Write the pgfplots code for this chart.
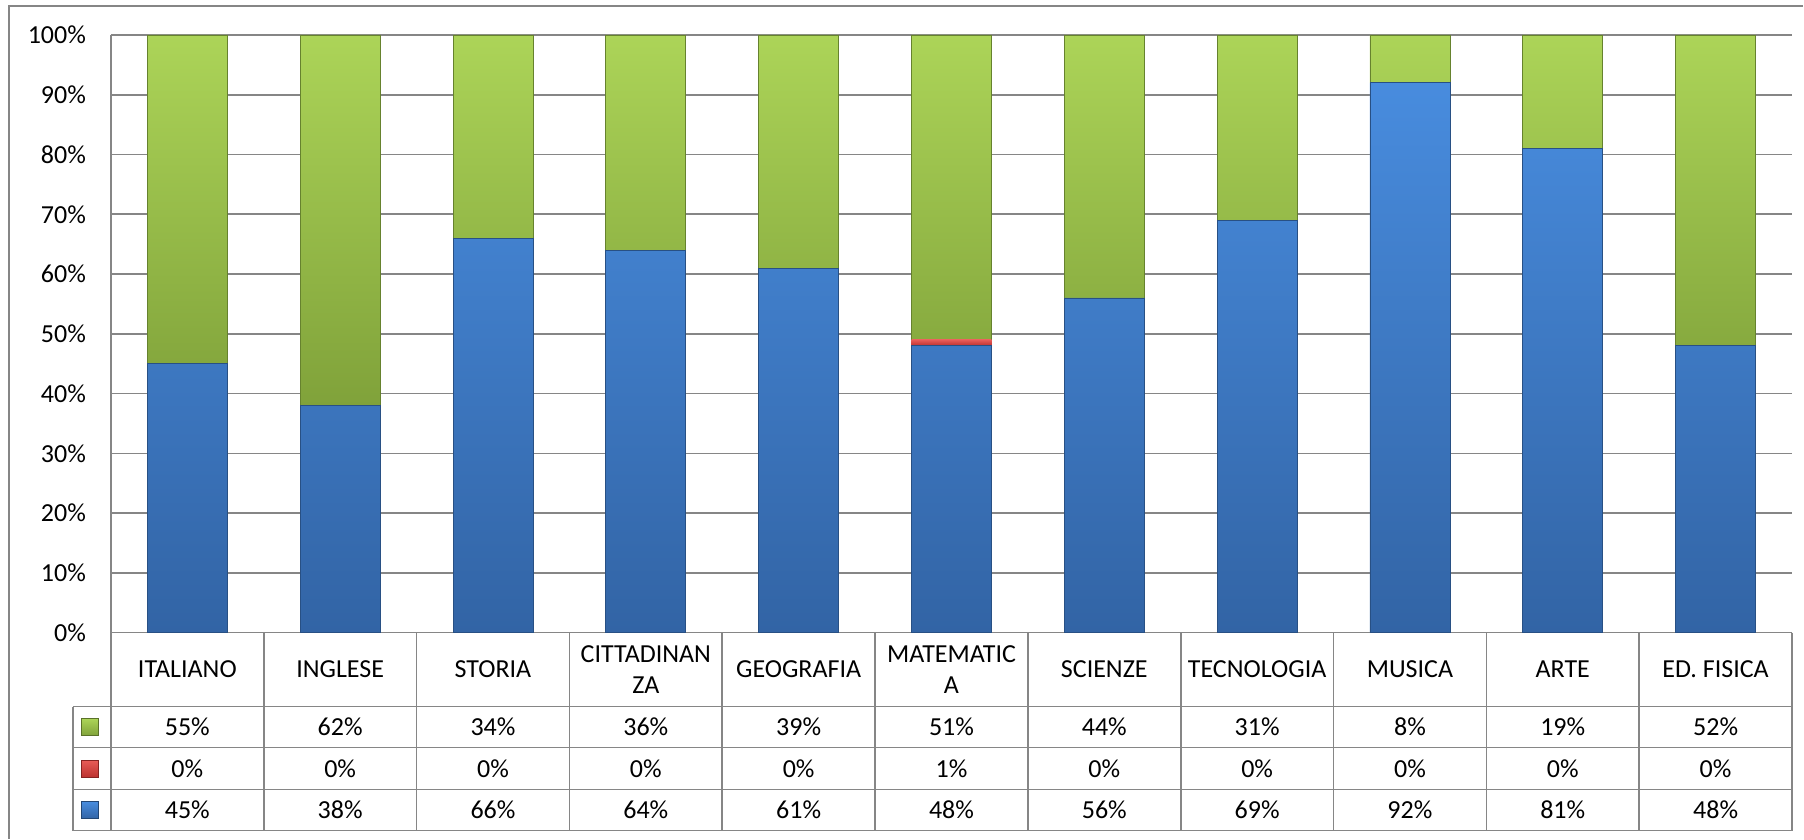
\documentclass[border=0pt]{standalone}
\usepackage{pgfplots}
\usepackage{pgfplotstable}
\pgfplotsset{compat=1.18}
\usepackage{fontspec}
\setmainfont{Carlito}
\definecolor{bluetop}{RGB}{72,140,222}
\definecolor{bluebot}{RGB}{50,100,165}
\definecolor{greentop}{RGB}{172,212,88}
\definecolor{greenbot}{RGB}{128,162,58}
\definecolor{redtop}{RGB}{232,92,88}
\definecolor{redbot}{RGB}{188,50,48}
\definecolor{gridgray}{RGB}{134,134,134}
\pgfplotstableread{
x blue red green
0 45 0 55
1 38 0 62
2 66 0 34
3 64 0 36
4 61 0 39
5 48 1 51
6 56 0 44
7 69 0 31
8 92 0 8
9 81 0 19
10 48 0 52
}\datatable
\begin{document}
\begin{tikzpicture}[font=\fontsize{13}{15.5}\selectfont]
\begin{axis}[
  name=main,
  at={(0,0)}, anchor=south west,
  scale only axis, width=841pt, height=299pt,
  xmin=-0.5, xmax=10.5, ymin=0, ymax=100,
  enlargelimits=false,
  ybar stacked, bar width=40pt,
  axis x line*=bottom, axis y line*=left,
  axis line style={draw=gridgray, line width=0.8pt},
  major tick length=0pt,
  ytick={0,10,...,100},
  yticklabel={\pgfmathprintnumber{\tick}\%},
  /pgf/number format/assume math mode=true,
  yticklabel style={anchor=east, xshift=-9pt, font=\fontsize{13}{15.5}\selectfont},
  ymajorgrids, grid style={draw=gridgray, line width=0.8pt},
  xtick=data,
  xticklabels={ITALIANO,INGLESE,STORIA,{CITTADINAN\\ZA},GEOGRAFIA,{MATEMATIC\\A},SCIENZE,TECNOLOGIA,MUSICA,ARTE,ED. FISICA},
  xticklabel style={anchor=center, yshift=-18.5pt, align=center, font=\fontsize{13}{15.5}\selectfont},
  clip=false,
]
\addplot[top color=bluetop, bottom color=bluebot, draw=bluebot!80!black, line width=0.4pt] table[x=x, y=blue] {\datatable};
\addplot[top color=redtop, bottom color=redbot, draw=none] table[x=x, y=red] {\datatable};
\addplot[top color=greentop, bottom color=greenbot, draw=greenbot!80!black, line width=0.4pt] table[x=x, y=green] {\datatable};
\end{axis}
\begin{axis}[
  at={(main.south west)}, anchor=north west,
  scale only axis, width=841pt, height=99pt,
  xmin=-0.5, xmax=10.5, ymin=-99, ymax=0,
  hide axis, clip=false,
  /pgf/number format/assume math mode=true,
  every node near coord/.append style={anchor=center, font=\fontsize{13}{15.5}\selectfont},
  nodes near coords={\pgfmathprintnumber[fixed,precision=0,assume math mode=true]{\pgfplotspointmeta}\%},
]
% table grid
\draw[gridgray, line width=0.8pt] (axis cs:-0.7485,-37) -- (axis cs:10.5,-37);
\draw[gridgray, line width=0.8pt] (axis cs:-0.7485,-57.5) -- (axis cs:10.5,-57.5);
\draw[gridgray, line width=0.8pt] (axis cs:-0.7485,-78.5) -- (axis cs:10.5,-78.5);
\draw[gridgray, line width=0.8pt] (axis cs:-0.7485,-99) -- (axis cs:10.5,-99);
\draw[gridgray, line width=0.8pt] (axis cs:-0.7485,-37) -- (axis cs:-0.7485,-99);
\pgfplotsinvokeforeach{-0.5,0.5,1.5,2.5,3.5,4.5,5.5,6.5,7.5,8.5,9.5,10.5}{
  \draw[gridgray, line width=0.8pt] (axis cs:#1,0) -- (axis cs:#1,-99);
}
\addplot[only marks, mark=none, point meta=explicit] table[x=x, y expr=-47.25, meta=green] {\datatable};
\addplot[only marks, mark=none, point meta=explicit] table[x=x, y expr=-68, meta=red] {\datatable};
\addplot[only marks, mark=none, point meta=explicit] table[x=x, y expr=-88.75, meta=blue] {\datatable};
\end{axis}
% legend keys of the data table
\shade[top color=greentop, bottom color=greenbot, draw=greenbot!70!black, line width=0.3pt] (-14.75pt,-51.5pt) rectangle (-6.25pt,-43pt);
\shade[top color=redtop, bottom color=redbot, draw=redbot!70!black, line width=0.3pt] (-14.75pt,-72.25pt) rectangle (-6.25pt,-63.75pt);
\shade[top color=bluetop, bottom color=bluebot, draw=bluebot!70!black, line width=0.3pt] (-14.75pt,-93pt) rectangle (-6.25pt,-84.5pt);
% chart area border
\draw[gridgray, line width=1pt] (-51pt,-103pt) -- (-51pt,313.5pt) -- (846.5pt,313.5pt);
\path[use as bounding box] (-55.5pt,-103pt) rectangle (846.5pt,316.5pt);
\end{tikzpicture}
\end{document}
